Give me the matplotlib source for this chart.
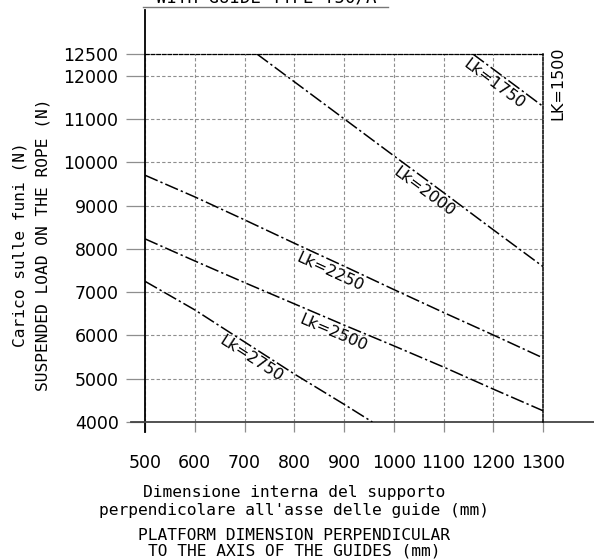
import numpy as np
import matplotlib
matplotlib.use('Agg')
import matplotlib.pyplot as plt

# ------------------------------------------------------------------
# ------------------- Chart data ------------
# ------------------------------------------------------------------
x_ticks = [500, 600, 700, 800, 900, 1000, 1100, 1200, 1300]
y_ticks = [4000, 5000, 6000, 7000, 8000, 9000, 10000, 11000, 12000, 12500]

x_1750 = [1159, 1200, 1300]
y_1750 = [12500, 12150, 11290]

x_2000 = [725, 800, 900, 1000, 1100, 1200, 1300]
y_2000 = [12500, 11860, 11005, 10150, 9300, 8440, 7590]

x_2250 = [500, 600, 700, 800, 900, 1000, 1100, 1200, 1300]
y_2250 = [9700, 9200, 8670, 8130, 7600, 7060, 6530, 6010, 5480]

x_2500 = [500, 600, 700, 800, 900, 1000, 1100, 1200, 1300]
y_2500 = [8230, 7720, 7220, 6730, 6240, 5760, 5270, 4760, 4260]

x_2750 = [500, 600, 700, 800, 900, 957]
y_2750 = [7250, 6590, 5850, 5110, 4410, 4000]

curves = [('Lk=1750', x_1750, y_1750, 1215),
          ('Lk=2000', x_2000, y_2000, 1075),
          ('Lk=2250', x_2250, y_2250, 882),
          ('Lk=2500', x_2500, y_2500, 888),
          ('Lk=2750', x_2750, y_2750, 725)]

mono = 'DejaVu Sans Mono'
sans = 'DejaVu Sans'

# ------ Set up figure layout --------
fig = plt.figure(figsize=(5.94, 5.59), dpi=100)
ax = fig.add_axes([145 / 594, 137 / 559, 398 / 594, 368 / 559])
ax.set_xlim(500, 1300)
ax.set_ylim(4000, 12500)

# -------- Grid and frame ----------
ax.set_xticks(x_ticks)
ax.set_yticks(y_ticks)
ax.grid(True, color='#8e8e8e', linestyle=(0, (3, 2)), linewidth=0.8)
ax.set_axisbelow(True)
for s in ['left', 'bottom']:
    ax.spines[s].set_visible(False)
ax.spines['top'].set_linestyle((0, (3, 1.5)))
ax.spines['top'].set_linewidth(0.9)
ax.spines['right'].set_linestyle((0, (2, 1.2)))
ax.spines['right'].set_linewidth(1.1)

# long axis lines drawn past the plot area
ax.plot([0, 0], [-0.027, 1.12], transform=ax.transAxes, color='k', lw=1.3, clip_on=False)
ax.plot([-0.035, 1.13], [0, 0], transform=ax.transAxes, color='#444444', lw=1.3, clip_on=False)

ax.tick_params(axis='y', length=14, color='#8e8e8e', width=0.9, pad=5, labelsize=12.5)
ax.tick_params(axis='x', length=7, color='#8e8e8e', width=0.9, pad=16, labelsize=12.5)
for lab in ax.get_xticklabels() + ax.get_yticklabels():
    lab.set_family(sans)

# -------- Curves ----------
for name, xs, ys, lx in curves:
    ax.plot(xs, ys, color='k', lw=1.1, dashes=(9, 2, 1.5, 2))
    ly = np.interp(lx, xs, ys)
    # screen angle of the curve around the label
    p0 = ax.transData.transform((lx - 30, np.interp(lx - 30, xs, ys)))
    p1 = ax.transData.transform((lx + 30, np.interp(lx + 30, xs, ys)))
    ang = np.degrees(np.arctan2(p1[1] - p0[1], p1[0] - p0[0]))
    a = np.radians(ang)
    off = 8.0
    ax.annotate(name, xy=(lx, ly), xytext=(off * np.sin(a), -off * np.cos(a)),
                textcoords='offset points', rotation=ang, rotation_mode='anchor',
                ha='center', va='center', fontsize=11.5, family=sans)

fig.text(558 / 594, 1 - 83.5 / 559, 'LK=1500', rotation=90, ha='center', va='center',
         fontsize=11.5, family=sans)

# -------- Axis labels ----------
fig.text(20 / 594, 1 - 245 / 559, 'Carico sulle funi (N)', rotation=90,
         ha='center', va='center', fontsize=11.7, family=mono)
fig.text(43 / 594, 1 - 245 / 559, 'SUSPENDED LOAD ON THE ROPE (N)', rotation=90,
         ha='center', va='center', fontsize=11.7, family=mono)

fig.text(294 / 594, 1 - 492 / 559, 'Dimensione interna del supporto',
         ha='center', va='center', fontsize=11.7, family=mono)
fig.text(294 / 594, 1 - 510 / 559, "perpendicolare all'asse delle guide (mm)",
         ha='center', va='center', fontsize=11.7, family=mono)
fig.text(294 / 594, 1 - 535 / 559, 'PLATFORM DIMENSION PERPENDICULAR',
         ha='center', va='center', fontsize=11.7, family=mono)
fig.text(294 / 594, 1 - 551 / 559, 'TO THE AXIS OF THE GUIDES (mm)',
         ha='center', va='center', fontsize=11.7, family=mono)

# -------- Title cut at the top edge ----------
fig.text(266 / 594, 1 - 2 / 559, 'WITH GUIDE TYPE T50/A', ha='center', va='baseline',
         fontsize=12.5, family=mono)
fig.add_artist(plt.Line2D([143 / 594, 388 / 594], [1 - 6.5 / 559, 1 - 6.5 / 559],
                          transform=fig.transFigure, color='#777777', lw=1))

fig.savefig('out.png', dpi=100)
